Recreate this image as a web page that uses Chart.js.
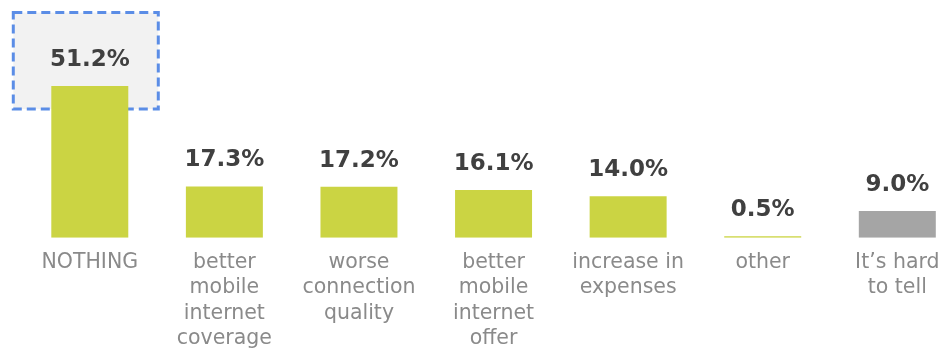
<!DOCTYPE html>
<html>
<head>
<meta charset="utf-8">
<script src="https://cdn.jsdelivr.net/npm/chart.js"></script>
<style>
  body { margin: 0; background: #fff; }
  #wrap { width: 946px; height: 350px; overflow: hidden; }
</style>
</head>
<body>
<div id="wrap">
  <canvas id="grafico" width="966" height="350"></canvas>
</div>
<script>
const categorias = [
  "NOTHING",
  ["better", "mobile", "internet", "coverage"],
  ["worse", "connection", "quality"],
  ["better", "mobile", "internet", "offer"],
  ["increase in", "expenses"],
  "other",
  ["It\u2019s hard", "to tell"]
];

const valores = [51.2, 17.3, 17.2, 16.1, 14.0, 0.5, 9.0];

const etiquetas = ["51.2%", "17.3%", "17.2%", "16.1%", "14.0%", "0.5%", "9.0%"];

const verde = "#cbd443";
const gris = "#a5a5a5";

// recuadro punteado detrás de la primera barra
const recuadro = {
  id: "recuadro",
  beforeDatasetsDraw(chart) {
    const bar = chart.getDatasetMeta(0).data[0];
    const ctx = chart.ctx;
    const x1 = bar.x - 76.5, x2 = bar.x + 68.5;
    const y1 = bar.y - 73.5, y2 = bar.y + 23;
    ctx.save();
    ctx.fillStyle = "#f2f2f2";
    ctx.fillRect(x1, y1, x2 - x1, y2 - y1);
    ctx.setLineDash([9, 5]);
    ctx.lineWidth = 3;
    ctx.strokeStyle = "#5b8de6";
    ctx.strokeRect(x1, y1, x2 - x1, y2 - y1);
    ctx.restore();
  }
};

// porcentajes encima de cada barra
const valoresArriba = {
  id: "valoresArriba",
  afterDatasetsDraw(chart) {
    const ctx = chart.ctx;
    ctx.save();
    ctx.font = "bold 23px 'DejaVu Sans'";
    ctx.fillStyle = "#404040";
    ctx.textAlign = "center";
    ctx.textBaseline = "middle";
    chart.getDatasetMeta(0).data.forEach((bar, i) => {
      ctx.fillText(etiquetas[i], bar.x, bar.y - 26);
    });
    ctx.restore();
  }
};

new Chart(document.getElementById("grafico").getContext("2d"), {
  type: "bar",
  data: {
    labels: categorias,
    datasets: [{
      data: valores,
      backgroundColor: c => c.dataIndex === valores.length - 1 ? gris : verde,
      borderWidth: 0,
      barPercentage: 1,
      categoryPercentage: 0.572
    }]
  },
  options: {
    responsive: false,
    animation: false,
    layout: { padding: { left: 22.5, right: 1.4, top: 60, bottom: 0 } },
    plugins: { legend: { display: false }, tooltip: { enabled: false } },
    scales: {
      x: {
        grid: { display: false, drawTicks: false },
        border: { display: false },
        ticks: {
          padding: 12,
          color: "#8a8a8a",
          maxRotation: 0,
          autoSkip: false,
          font: { family: "'DejaVu Sans'", size: 20.5, lineHeight: 1.24 }
        },
        afterFit: s => { s.height = 112.3; }
      },
      y: {
        display: false,
        min: 0,
        max: 60
      }
    }
  },
  plugins: [recuadro, valoresArriba]
});
</script>
</body>
</html>
